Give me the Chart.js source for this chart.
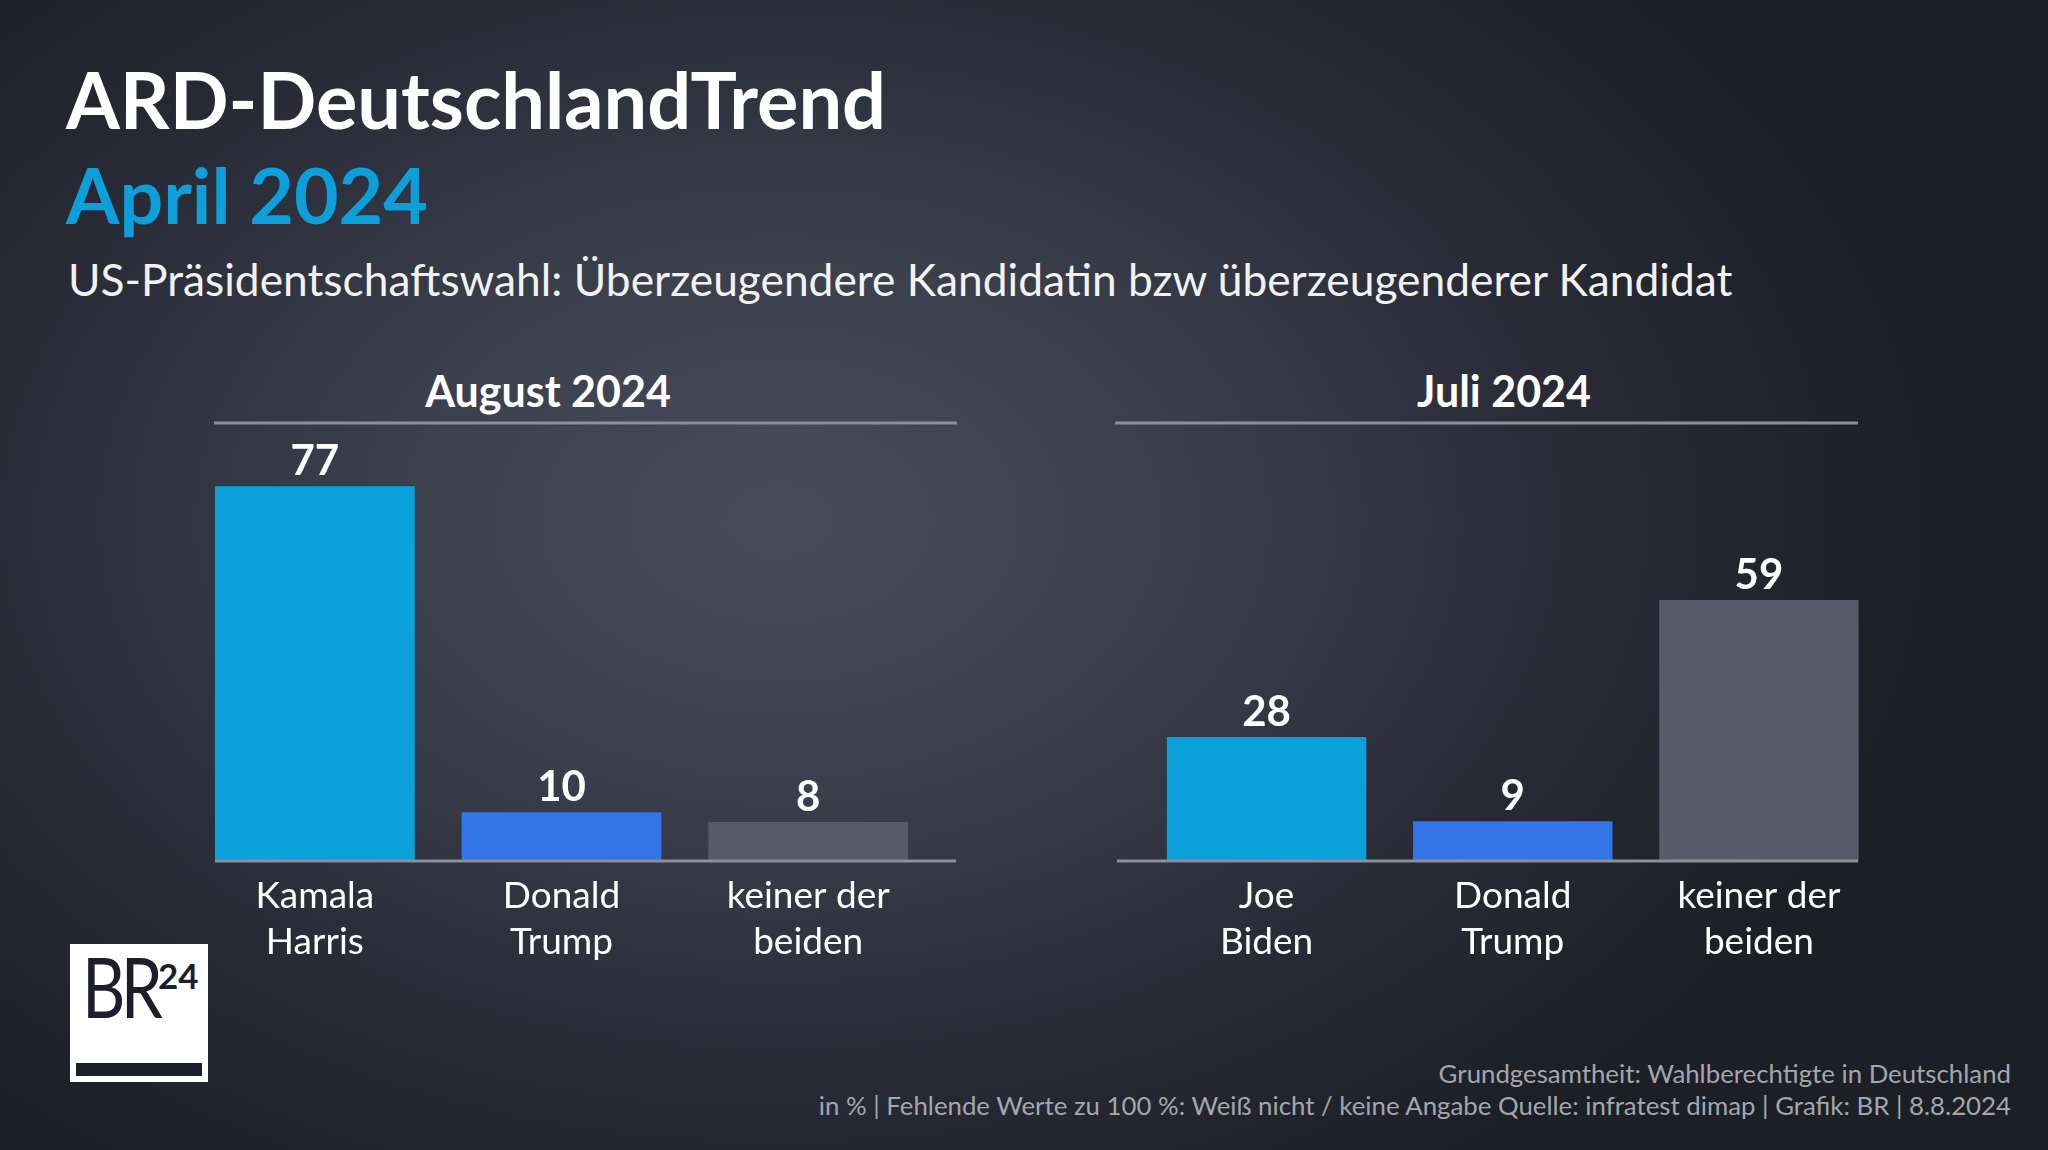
<!DOCTYPE html>
<html lang="de">
<head>
<meta charset="utf-8">
<title>ARD-DeutschlandTrend</title>
<script src="https://cdn.jsdelivr.net/npm/chart.js@4.4.1/dist/chart.umd.min.js"></script>
<style>
  html, body { margin: 0; padding: 0; }
  body {
    width: 2048px; height: 1150px; overflow: hidden; position: relative;
    font-family: Lato, "Open Sans", sans-serif;
    background: radial-gradient(ellipse 1150px 780px at 780px 520px, #484d5c 0%, #3b3f4c 35%, #282b36 70%, #1d1f27 100%);
  }
  .abs { position: absolute; white-space: nowrap; line-height: 1; }
  #title { left: 66px; top: 61px; font-size: 77.5px; font-weight: 700; color: #fff; }
  #subtitle1 { left: 66px; top: 156px; font-size: 77px; font-weight: 700; color: #0d9fd9; }
  #subtitle2 { left: 68px; top: 257px; font-size: 44.3px; font-weight: 400; color: #f2f2f2; }
  .panel { font-size: 43px; font-weight: 700; color: #fff; width: 600px; text-align: center; top: 369px; }
  canvas { position: absolute; }
  #logo { position: absolute; left: 70px; top: 944px; width: 138px; height: 138px; background: #fff; overflow: hidden; }
  #logo .br { position: absolute; left: 12px; top: 0px; font-size: 84px; font-weight: 400; color: #1c1f2b; letter-spacing: -6px; line-height: 1; transform: scaleX(0.8); transform-origin: 0 0; }
  #logo .num { position: absolute; left: 88px; top: 14px; font-size: 35px; font-weight: 700; color: #1c1f2b; line-height: 1; }
  #logo .bar { position: absolute; left: 6px; top: 119px; width: 126px; height: 13px; background: #1c1f2b; }
  .foot { right: 37px; font-size: 25.8px; color: #a3a6ad; }
</style>
</head>
<body>
<div id="title" class="abs">ARD-DeutschlandTrend</div>
<div id="subtitle1" class="abs">April 2024</div>
<div id="subtitle2" class="abs">US-Präsidentschaftswahl: Überzeugendere Kandidatin bzw überzeugenderer Kandidat</div>

<div id="panelLeft" class="abs panel" style="left:248px">August 2024</div>
<div id="panelRight" class="abs panel" style="left:1204px">Juli 2024</div>

<canvas id="chartLeft" width="820" height="651" style="left:150px; top:330px"></canvas>
<canvas id="chartRight" width="820" height="651" style="left:1100px; top:330px"></canvas>

<div id="logo"><span class="br">BR</span><span class="num">24</span><div class="bar"></div></div>

<div class="abs foot" style="top:1061px">Grundgesamtheit: Wahlberechtigte in Deutschland</div>
<div class="abs foot" style="top:1093px">in % | Fehlende Werte zu 100 %: Weiß nicht / keine Angabe Quelle: infratest dimap | Grafik: BR | 8.8.2024</div>

<script>
// Daten
const augustLabels = [['Kamala', 'Harris'], ['Donald', 'Trump'], ['keiner der', 'beiden']];
const augustValues = [77, 10, 8];
const juliLabels = [['Joe', 'Biden'], ['Donald', 'Trump'], ['keiner der', 'beiden']];
const juliValues = [28, 9, 59];
const barColors = ['#0ba0d9', '#3375e8', '#555b68'];

// Linien oben/unten + Zahlen über den Balken
const decor = {
  id: 'decor',
  afterDatasetsDraw(chart, args, opts) {
    const ctx = chart.ctx;
    const a = chart.chartArea;
    ctx.save();
    ctx.strokeStyle = '#8c8f97';
    ctx.lineWidth = 3;
    ctx.beginPath();
    ctx.moveTo(a.left + opts.topL, a.top);
    ctx.lineTo(a.right + opts.topR, a.top);
    ctx.moveTo(a.left + opts.baseL, a.bottom);
    ctx.lineTo(a.right + opts.baseR, a.bottom);
    ctx.stroke();

    ctx.fillStyle = '#ffffff';
    ctx.font = 'bold 42px Lato';
    ctx.textAlign = 'center';
    ctx.textBaseline = 'alphabetic';
    var values = chart.data.datasets[0].data;
    chart.getDatasetMeta(0).data.forEach(function (bar, i) {
      ctx.fillText(values[i], bar.x, bar.y - 11);
    });
    ctx.restore();
  }
};

function makeChart(id, labels, values, yMax, pad, lines) {
  return new Chart(document.getElementById(id), {
    type: 'bar',
    data: {
      labels: labels,
      datasets: [{
        data: values,
        backgroundColor: barColors,
        borderWidth: 0,
        barPercentage: 0.81,
        categoryPercentage: 1
      }]
    },
    options: {
      responsive: false,
      animation: false,
      layout: { padding: pad },
      plugins: {
        legend: { display: false },
        tooltip: { enabled: false },
        decor: lines
      },
      scales: {
        y: { display: false, min: 0, max: yMax },
        x: {
          grid: { display: false, drawTicks: false },
          border: { display: false },
          ticks: {
            color: '#ffffff',
            padding: 12,
            font: { family: 'Lato', size: 37, weight: 400, lineHeight: 1.24 },
            maxRotation: 0
          },
          afterFit: function (scale) { scale.height = 120; }
        }
      }
    },
    plugins: [decor]
  });
}

makeChart('chartLeft', augustLabels, augustValues, 90,
  { top: 93, left: 41.5, right: 38.5, bottom: 0 },
  { topL: 22.5, topR: 25.5, baseL: 23.5, baseR: 24.5 });

makeChart('chartRight', juliLabels, juliValues, 99,
  { top: 93, left: 43.5, right: 38, bottom: 0 },
  { topL: -28.5, topR: -24, baseL: -26.5, baseR: -24 });
</script>
</body>
</html>
